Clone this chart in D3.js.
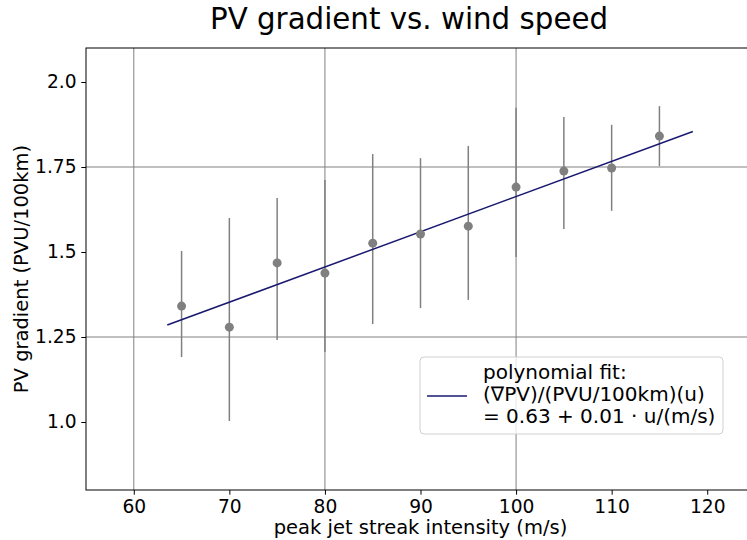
<!DOCTYPE html>
<html><head><meta charset="utf-8">
<script src="https://cdn.jsdelivr.net/npm/d3@7"></script>
<style>body{margin:0;background:#fff}svg{display:block}</style>
</head><body><svg id="c" width="747" height="540"></svg>
<script>
const speeds = [65, 70, 75, 80, 85, 90, 95, 100, 105, 110, 115];
const gradMean = [1.341, 1.279, 1.468, 1.438, 1.526, 1.553, 1.576, 1.691, 1.738, 1.747, 1.841];
const gradLow  = [1.191, 1.003, 1.241, 1.206, 1.288, 1.335, 1.359, 1.485, 1.568, 1.621, 1.753];
const gradHigh = [1.503, 1.600, 1.659, 1.712, 1.788, 1.776, 1.812, 1.924, 1.897, 1.874, 1.929];
const fitCoef = [0.628, 0.01035];
const fitRange = [63.5, 118.5];
const xTicks = [60, 70, 80, 90, 100, 110, 120];
const yTicks = [1.0, 1.25, 1.5, 1.75, 2.0];
const xGrid = [60, 80, 100];
const yGrid = [1.25, 1.75];
const legendLines = ["polynomial fit:", "(\u2207PV)/(PVU/100km)(u)", "= 0.63 + 0.01 \u00b7 u/(m/s)"];

const svg = d3.select("#c");
const L = 86, R = 755, T = 48, B = 490;
const x = d3.scaleLinear().domain([55, 125]).range([L, R]);
const y = d3.scaleLinear().domain([0.8, 2.1]).range([B, T]);
const font = "DejaVu Sans, sans-serif";

// grid
svg.append("g").selectAll("line").data(xGrid).join("line")
  .attr("x1", d => x(d)).attr("x2", d => x(d)).attr("y1", T).attr("y2", B)
  .attr("stroke", "#808080").attr("stroke-width", 1);
svg.append("g").selectAll("line").data(yGrid).join("line")
  .attr("y1", d => y(d)).attr("y2", d => y(d)).attr("x1", L).attr("x2", R)
  .attr("stroke", "#808080").attr("stroke-width", 1);

// error bars
const data = speeds.map((s, i) => ({s, m: gradMean[i], lo: gradLow[i], hi: gradHigh[i]}));
svg.append("g").selectAll("line").data(data).join("line")
  .attr("x1", d => x(d.s)).attr("x2", d => x(d.s))
  .attr("y1", d => y(d.lo)).attr("y2", d => y(d.hi))
  .attr("stroke", "#808080").attr("stroke-width", 1.5);

// fit line
const line = d3.line().x(d => x(d)).y(d => y(fitCoef[0] + fitCoef[1] * d));
svg.append("path").datum(fitRange).attr("d", line)
  .attr("fill", "none").attr("stroke", "#191970").attr("stroke-width", 1.5);

// points
svg.append("g").selectAll("circle").data(data).join("circle")
  .attr("cx", d => x(d.s)).attr("cy", d => y(d.m)).attr("r", 4.5)
  .attr("fill", "#808080");

// axes
const xAxis = svg.append("g").attr("transform", `translate(0,${B})`)
  .call(d3.axisBottom(x).tickValues(xTicks).tickSize(4.7).tickPadding(4.7).tickFormat(d3.format("d")));
const yAxis = svg.append("g").attr("transform", `translate(${L},0)`)
  .call(d3.axisLeft(y).tickValues(yTicks).tickSize(4.7).tickPadding(4.7)
    .tickFormat(d => d === 1.25 || d === 1.75 ? d.toFixed(2) : d.toFixed(1)));
[xAxis, yAxis].forEach(a => {
  a.select(".domain").remove();
  a.selectAll("text").attr("font-family", font).attr("font-size", 18.67).attr("fill", "#000");
  a.selectAll("line").attr("stroke", "#000").attr("stroke-width", 1);
});
// frame
svg.append("rect").attr("x", L).attr("y", T).attr("width", R - L).attr("height", B - T)
  .attr("fill", "none").attr("stroke", "#000").attr("stroke-width", 1);

// labels
svg.append("text").attr("x", 409).attr("y", 29).attr("text-anchor", "middle")
  .attr("font-family", font).attr("font-size", 29.3).text("PV gradient vs. wind speed");
svg.append("text").attr("x", (L + R) / 2).attr("y", 534).attr("text-anchor", "middle")
  .attr("font-family", font).attr("font-size", 19.5).text("peak jet streak intensity (m/s)");
svg.append("text").attr("transform", `translate(28,${(T + B) / 2}) rotate(-90)`)
  .attr("text-anchor", "middle").attr("font-family", font).attr("font-size", 19.5)
  .text("PV gradient (PVU/100km)");

// legend
const lg = svg.append("g");
lg.append("rect").attr("x", 420).attr("y", 357).attr("width", 303).attr("height", 77)
  .attr("rx", 4).attr("fill", "#fff").attr("fill-opacity", 0.8)
  .attr("stroke", "#d0d0d0").attr("stroke-width", 1);
lg.append("line").attr("x1", 427).attr("x2", 467).attr("y1", 396).attr("y2", 396)
  .attr("stroke", "#191970").attr("stroke-width", 1.5);
lg.selectAll("text").data(legendLines).join("text")
  .attr("x", 483).attr("y", (d, i) => 379 + i * 22)
  .attr("font-family", font).attr("font-size", 20).text(d => d);
</script></body></html>
